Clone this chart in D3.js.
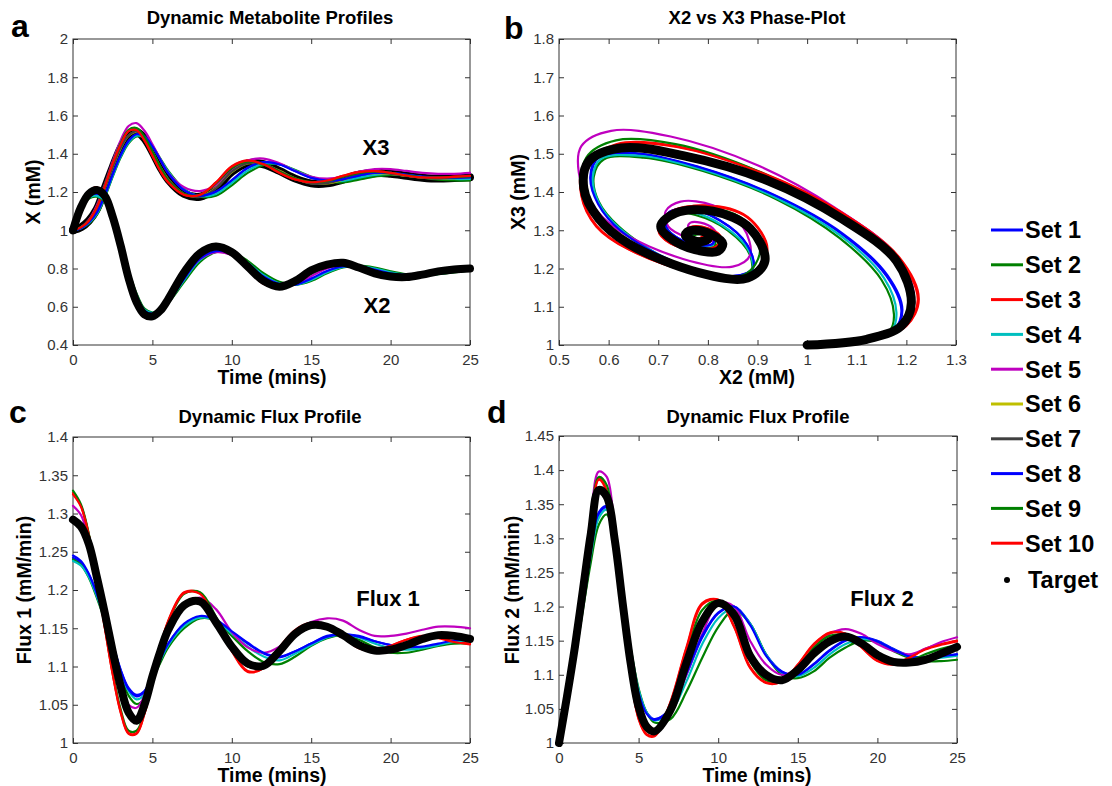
<!DOCTYPE html>
<html>
<head>
<meta charset="utf-8">
<title>Metabolite and flux profiles</title>
<script src="https://cdnjs.cloudflare.com/ajax/libs/d3/7.8.5/d3.min.js"></script>
<style>
  body { margin: 0; background: #fff; }
  svg text { font-family: "Liberation Sans", Arial, sans-serif; }
</style>
</head>
<body>
<script>
// ---- data ----
var times = [0,0.5,1,1.5,2,2.5,3,3.5,4,4.5,5,5.5,6,7,8,9,10,11,12,13,14,15,16,17,18,19,20,21,22,23,24,25];
var setNames = ["Set 1","Set 2","Set 3","Set 4","Set 5","Set 6","Set 7","Set 8","Set 9","Set 10"];
var targetName = "Target";

// X2 (mM)
var x2Target = [1.00,1.12,1.19,1.21,1.18,1.07,0.92,0.75,0.625,0.56,0.55,0.58,0.64,0.78,0.88,0.915,0.885,0.81,0.735,0.705,0.735,0.79,0.82,0.83,0.805,0.775,0.758,0.755,0.768,0.785,0.795,0.80];
var x2Sets = [
  [1.00,1.11,1.175,1.19,1.16,1.07,0.935,0.78,0.655,0.58,0.565,0.58,0.625,0.745,0.85,0.89,0.88,0.825,0.76,0.72,0.715,0.745,0.785,0.81,0.81,0.795,0.775,0.765,0.765,0.775,0.785,0.79],
  [1.00,1.105,1.165,1.175,1.15,1.065,0.94,0.79,0.67,0.59,0.57,0.58,0.62,0.73,0.835,0.885,0.885,0.84,0.775,0.73,0.715,0.735,0.775,0.805,0.815,0.805,0.785,0.77,0.765,0.77,0.78,0.79],
  [1.00,1.13,1.20,1.225,1.185,1.065,0.91,0.735,0.615,0.55,0.545,0.575,0.64,0.785,0.885,0.92,0.88,0.795,0.72,0.70,0.725,0.78,0.82,0.825,0.80,0.77,0.755,0.755,0.765,0.778,0.785,0.79],
  [1.00,1.108,1.17,1.18,1.155,1.068,0.937,0.785,0.663,0.585,0.568,0.58,0.622,0.74,0.845,0.888,0.882,0.83,0.765,0.722,0.715,0.74,0.78,0.808,0.812,0.80,0.78,0.768,0.765,0.772,0.782,0.79],
  [1.00,1.125,1.195,1.215,1.175,1.055,0.90,0.725,0.605,0.545,0.54,0.565,0.62,0.75,0.85,0.885,0.87,0.81,0.745,0.715,0.72,0.76,0.80,0.82,0.81,0.785,0.765,0.76,0.765,0.775,0.785,0.79],
  [1.00,1.12,1.19,1.208,1.178,1.07,0.922,0.752,0.627,0.56,0.55,0.58,0.64,0.778,0.878,0.913,0.885,0.81,0.736,0.706,0.734,0.788,0.82,0.829,0.806,0.776,0.759,0.756,0.768,0.784,0.794,0.80],
  [1.00,1.12,1.19,1.212,1.181,1.071,0.919,0.749,0.624,0.559,0.55,0.581,0.641,0.781,0.881,0.916,0.884,0.809,0.734,0.704,0.736,0.791,0.821,0.831,0.804,0.774,0.757,0.754,0.768,0.786,0.796,0.80],
  [1.00,1.11,1.176,1.192,1.162,1.071,0.934,0.778,0.653,0.578,0.563,0.579,0.625,0.746,0.851,0.891,0.879,0.823,0.758,0.719,0.716,0.747,0.787,0.811,0.81,0.794,0.774,0.765,0.766,0.776,0.786,0.79],
  [1.00,1.125,1.19,1.205,1.17,1.055,0.90,0.735,0.615,0.555,0.55,0.58,0.64,0.78,0.875,0.905,0.875,0.80,0.73,0.705,0.725,0.775,0.815,0.825,0.805,0.775,0.758,0.756,0.766,0.78,0.788,0.795],
  [1.00,1.129,1.199,1.223,1.184,1.066,0.911,0.737,0.616,0.551,0.546,0.576,0.64,0.784,0.884,0.919,0.88,0.796,0.722,0.701,0.725,0.779,0.819,0.825,0.801,0.771,0.756,0.755,0.765,0.777,0.785,0.79]
];

// X3 (mM)
var x3Target = [1.00,1.015,1.05,1.11,1.22,1.33,1.43,1.495,1.515,1.48,1.41,1.33,1.265,1.19,1.175,1.22,1.305,1.35,1.345,1.31,1.27,1.245,1.245,1.265,1.29,1.30,1.295,1.285,1.275,1.27,1.273,1.277];
var x3Sets = [
  [1.00,1.01,1.04,1.09,1.18,1.29,1.39,1.465,1.50,1.49,1.44,1.37,1.30,1.21,1.18,1.20,1.26,1.325,1.355,1.345,1.31,1.275,1.26,1.265,1.285,1.30,1.30,1.29,1.28,1.275,1.275,1.275],
  [1.00,1.01,1.035,1.08,1.17,1.28,1.38,1.455,1.49,1.485,1.44,1.375,1.31,1.215,1.175,1.18,1.235,1.30,1.34,1.345,1.315,1.28,1.255,1.25,1.265,1.28,1.29,1.285,1.275,1.265,1.26,1.26],
  [1.00,1.015,1.05,1.12,1.23,1.35,1.45,1.52,1.525,1.47,1.39,1.31,1.25,1.185,1.185,1.25,1.335,1.365,1.345,1.30,1.265,1.25,1.26,1.285,1.305,1.31,1.30,1.285,1.275,1.275,1.28,1.285],
  [1.00,1.01,1.038,1.085,1.175,1.285,1.385,1.46,1.495,1.487,1.44,1.372,1.305,1.212,1.178,1.19,1.248,1.312,1.348,1.345,1.312,1.278,1.258,1.258,1.275,1.29,1.295,1.288,1.278,1.27,1.268,1.268],
  [1.00,1.015,1.055,1.13,1.24,1.36,1.47,1.545,1.56,1.52,1.45,1.37,1.30,1.225,1.205,1.235,1.31,1.365,1.375,1.35,1.31,1.28,1.27,1.28,1.305,1.32,1.32,1.31,1.30,1.295,1.295,1.30],
  [1.00,1.015,1.05,1.11,1.219,1.329,1.428,1.494,1.514,1.48,1.411,1.331,1.266,1.19,1.176,1.221,1.304,1.349,1.345,1.311,1.271,1.246,1.245,1.264,1.289,1.299,1.295,1.285,1.275,1.271,1.273,1.277],
  [1.00,1.015,1.051,1.111,1.221,1.331,1.431,1.496,1.516,1.479,1.409,1.329,1.264,1.189,1.174,1.219,1.306,1.351,1.346,1.309,1.269,1.244,1.246,1.266,1.291,1.301,1.295,1.284,1.275,1.27,1.273,1.278],
  [1.00,1.01,1.041,1.092,1.182,1.292,1.392,1.467,1.502,1.49,1.439,1.368,1.298,1.209,1.18,1.202,1.262,1.327,1.356,1.344,1.308,1.274,1.26,1.266,1.286,1.30,1.30,1.29,1.279,1.274,1.275,1.276],
  [1.00,1.015,1.05,1.12,1.235,1.35,1.455,1.525,1.535,1.49,1.41,1.33,1.26,1.19,1.185,1.245,1.325,1.36,1.345,1.305,1.27,1.252,1.258,1.28,1.30,1.307,1.30,1.287,1.277,1.275,1.278,1.282],
  [1.00,1.015,1.05,1.119,1.229,1.349,1.448,1.518,1.523,1.47,1.391,1.311,1.251,1.186,1.185,1.249,1.333,1.364,1.345,1.301,1.266,1.251,1.26,1.284,1.304,1.309,1.30,1.286,1.276,1.275,1.279,1.284]
];

// Flux 1 (mM/min)
var flux1Target = [1.292,1.283,1.26,1.217,1.17,1.12,1.074,1.04,1.029,1.05,1.087,1.12,1.148,1.18,1.185,1.158,1.126,1.104,1.101,1.12,1.143,1.154,1.152,1.141,1.128,1.121,1.122,1.128,1.136,1.141,1.14,1.136];
var flux1Sets = [
  [1.242,1.236,1.22,1.195,1.165,1.13,1.096,1.072,1.063,1.068,1.088,1.11,1.13,1.155,1.165,1.16,1.145,1.13,1.117,1.112,1.12,1.13,1.14,1.142,1.14,1.133,1.128,1.125,1.125,1.129,1.133,1.135],
  [1.24,1.233,1.216,1.19,1.16,1.125,1.09,1.062,1.051,1.058,1.083,1.105,1.125,1.15,1.163,1.16,1.14,1.12,1.106,1.103,1.113,1.127,1.137,1.141,1.135,1.125,1.118,1.118,1.122,1.127,1.13,1.13],
  [1.327,1.31,1.272,1.215,1.152,1.09,1.04,1.012,1.012,1.038,1.08,1.125,1.16,1.197,1.196,1.16,1.12,1.093,1.098,1.125,1.148,1.157,1.15,1.138,1.124,1.12,1.127,1.135,1.14,1.138,1.133,1.13],
  [1.238,1.232,1.217,1.192,1.162,1.128,1.093,1.068,1.057,1.063,1.085,1.108,1.128,1.153,1.164,1.16,1.143,1.126,1.113,1.108,1.117,1.128,1.138,1.142,1.138,1.13,1.124,1.122,1.124,1.128,1.132,1.135],
  [1.31,1.298,1.265,1.215,1.162,1.113,1.072,1.05,1.046,1.062,1.093,1.123,1.148,1.178,1.19,1.175,1.145,1.125,1.118,1.126,1.145,1.158,1.163,1.16,1.148,1.14,1.14,1.143,1.148,1.152,1.152,1.15],
  [1.29,1.282,1.259,1.217,1.17,1.121,1.075,1.041,1.03,1.05,1.086,1.12,1.147,1.179,1.184,1.158,1.127,1.105,1.102,1.12,1.142,1.153,1.151,1.14,1.128,1.122,1.123,1.128,1.135,1.14,1.14,1.136],
  [1.293,1.284,1.26,1.218,1.171,1.12,1.073,1.039,1.029,1.049,1.087,1.121,1.148,1.181,1.186,1.159,1.126,1.103,1.10,1.119,1.143,1.155,1.153,1.142,1.128,1.12,1.121,1.128,1.137,1.142,1.141,1.137],
  [1.245,1.238,1.221,1.195,1.164,1.129,1.095,1.07,1.061,1.067,1.088,1.11,1.13,1.156,1.166,1.161,1.146,1.131,1.118,1.113,1.12,1.13,1.139,1.142,1.139,1.133,1.128,1.126,1.126,1.13,1.134,1.136],
  [1.33,1.312,1.273,1.216,1.154,1.093,1.044,1.016,1.016,1.04,1.082,1.125,1.158,1.195,1.197,1.165,1.125,1.10,1.10,1.12,1.142,1.155,1.152,1.14,1.127,1.12,1.122,1.13,1.138,1.14,1.137,1.134],
  [1.325,1.309,1.271,1.214,1.151,1.09,1.041,1.013,1.013,1.039,1.081,1.125,1.159,1.196,1.195,1.16,1.121,1.094,1.098,1.124,1.147,1.156,1.15,1.138,1.125,1.121,1.127,1.135,1.139,1.137,1.132,1.129]
];

// Flux 2 (mM/min)
var flux2Target = [1.0,1.068,1.141,1.224,1.307,1.371,1.361,1.298,1.205,1.117,1.053,1.024,1.017,1.048,1.117,1.178,1.205,1.188,1.128,1.10,1.092,1.107,1.131,1.149,1.156,1.146,1.129,1.119,1.118,1.122,1.131,1.141];
var flux2Sets = [
  [1.0,1.062,1.128,1.205,1.28,1.335,1.345,1.30,1.22,1.135,1.075,1.045,1.035,1.05,1.10,1.155,1.19,1.20,1.175,1.13,1.105,1.10,1.115,1.135,1.15,1.155,1.15,1.138,1.128,1.125,1.127,1.13],
  [1.0,1.06,1.122,1.195,1.265,1.32,1.335,1.29,1.22,1.14,1.08,1.045,1.03,1.035,1.075,1.125,1.17,1.195,1.175,1.13,1.10,1.095,1.105,1.125,1.14,1.15,1.148,1.135,1.125,1.12,1.12,1.122],
  [1.0,1.072,1.15,1.24,1.33,1.388,1.37,1.29,1.19,1.10,1.035,1.012,1.01,1.06,1.14,1.205,1.21,1.17,1.11,1.088,1.09,1.115,1.145,1.162,1.16,1.14,1.12,1.115,1.125,1.138,1.145,1.15],
  [1.0,1.062,1.126,1.20,1.275,1.33,1.342,1.298,1.22,1.138,1.078,1.045,1.033,1.045,1.09,1.145,1.183,1.198,1.175,1.13,1.103,1.098,1.11,1.13,1.145,1.152,1.149,1.137,1.127,1.123,1.125,1.128],
  [1.0,1.07,1.148,1.238,1.33,1.398,1.39,1.31,1.21,1.12,1.06,1.03,1.02,1.045,1.10,1.16,1.205,1.20,1.15,1.115,1.10,1.11,1.14,1.16,1.167,1.16,1.145,1.135,1.13,1.138,1.148,1.155],
  [1.0,1.068,1.14,1.223,1.306,1.37,1.36,1.298,1.206,1.118,1.054,1.025,1.018,1.048,1.116,1.177,1.204,1.188,1.129,1.10,1.092,1.107,1.13,1.148,1.155,1.146,1.13,1.12,1.118,1.122,1.13,1.14],
  [1.0,1.069,1.142,1.225,1.308,1.372,1.362,1.297,1.204,1.116,1.052,1.023,1.016,1.049,1.118,1.179,1.206,1.187,1.127,1.099,1.091,1.108,1.132,1.15,1.157,1.146,1.128,1.118,1.117,1.123,1.132,1.142],
  [1.0,1.063,1.13,1.208,1.283,1.338,1.347,1.30,1.218,1.133,1.073,1.043,1.034,1.05,1.102,1.157,1.191,1.20,1.173,1.128,1.104,1.10,1.116,1.136,1.151,1.155,1.149,1.137,1.127,1.124,1.127,1.13],
  [1.0,1.07,1.146,1.235,1.325,1.39,1.378,1.30,1.20,1.108,1.045,1.018,1.015,1.055,1.13,1.195,1.208,1.18,1.12,1.092,1.09,1.11,1.14,1.157,1.158,1.145,1.126,1.117,1.12,1.13,1.138,1.143],
  [1.0,1.071,1.149,1.239,1.328,1.386,1.368,1.29,1.191,1.101,1.036,1.013,1.011,1.059,1.138,1.203,1.21,1.171,1.112,1.089,1.09,1.114,1.144,1.161,1.16,1.141,1.121,1.116,1.125,1.137,1.144,1.149]
];

// axis ticks
var timeTicks = [0,5,10,15,20,25];
var xTicksA = [0.4,0.6,0.8,1,1.2,1.4,1.6,1.8,2];
var x2TicksB = [0.5,0.6,0.7,0.8,0.9,1,1.1,1.2,1.3];
var x3TicksB = [1,1.1,1.2,1.3,1.4,1.5,1.6,1.7,1.8];
var flux1Ticks = [1,1.05,1.1,1.15,1.2,1.25,1.3,1.35,1.4];
var flux2Ticks = [1,1.05,1.1,1.15,1.2,1.25,1.3,1.35,1.4,1.45];

// ---- styling ----
var setColors = ["#0000ff","#008000","#ff0000","#00bfbf","#bf00bf","#bfbf00","#404040","#0000ff","#008000","#ff0000"];
var setWidth = 2.2;
var targetWidth = 8;

var svg = d3.select("body").append("svg")
  .attr("width", 1112)
  .attr("height", 786);

function frame(box, xDomain, yDomain, xTicks, yTicks) {
  var x = d3.scaleLinear().domain(xDomain).range([box.l, box.r]);
  var y = d3.scaleLinear().domain(yDomain).range([box.b, box.t]);
  var g = svg.append("g");
  var fmt = function(d) { return String(d); };
  var none = function() { return ""; };

  g.append("g").attr("transform", "translate(0," + box.b + ")")
    .call(d3.axisBottom(x).tickValues(xTicks).tickFormat(fmt).tickSizeInner(-5).tickSizeOuter(0).tickPadding(9));
  g.append("g").attr("transform", "translate(0," + box.t + ")")
    .call(d3.axisTop(x).tickValues(xTicks).tickFormat(none).tickSizeInner(-5).tickSizeOuter(0));
  g.append("g").attr("transform", "translate(" + box.l + ",0)")
    .call(d3.axisLeft(y).tickValues(yTicks).tickFormat(fmt).tickSizeInner(-5).tickSizeOuter(0).tickPadding(5));
  g.append("g").attr("transform", "translate(" + box.r + ",0)")
    .call(d3.axisRight(y).tickValues(yTicks).tickFormat(none).tickSizeInner(-5).tickSizeOuter(0));

  g.selectAll(".domain").remove();
  g.selectAll(".tick line").attr("stroke", "#333");
  g.selectAll(".tick text")
    .attr("fill", "#333")
    .attr("font-size", "15px")
    .attr("font-family", "'Liberation Sans', Arial, sans-serif");

  g.append("rect")
    .attr("x", box.l).attr("y", box.t)
    .attr("width", box.r - box.l).attr("height", box.b - box.t)
    .attr("fill", "none").attr("stroke", "#333").attr("stroke-width", 1);

  var plot = svg.append("g");
  return { x: x, y: y, g: plot };
}

function timeLine(p, values, color, width) {
  var line = d3.line()
    .x(function(d, i) { return p.x(times[i]); })
    .y(function(d) { return p.y(d); })
    .curve(d3.curveCatmullRom.alpha(0.5));
  p.g.append("path")
    .datum(values)
    .attr("d", line)
    .attr("fill", "none")
    .attr("stroke", color)
    .attr("stroke-width", width)
    .attr("stroke-linejoin", "round")
    .attr("stroke-linecap", "round");
}

function phaseLine(p, xs, ys, color, width) {
  var line = d3.line()
    .x(function(d, i) { return p.x(xs[i]); })
    .y(function(d, i) { return p.y(ys[i]); })
    .curve(d3.curveCatmullRom.alpha(0.5));
  p.g.append("path")
    .datum(xs)
    .attr("d", line)
    .attr("fill", "none")
    .attr("stroke", color)
    .attr("stroke-width", width)
    .attr("stroke-linejoin", "round")
    .attr("stroke-linecap", "round");
}

function addText(x, y, txt, size, anchor, rotate) {
  var t = svg.append("text")
    .attr("font-size", size + "px")
    .attr("font-weight", "bold")
    .attr("fill", "#000")
    .attr("text-anchor", anchor || "middle")
    .text(txt);
  if (rotate) t.attr("transform", "translate(" + x + "," + y + ") rotate(-90)");
  else t.attr("x", x).attr("y", y);
  return t;
}

// panel a
var pa = frame({ l: 73, r: 470, t: 39, b: 345 }, [0, 25], [0.4, 2], timeTicks, xTicksA);
timeLine(pa, x3Target, "#000", targetWidth);
x3Sets.forEach(function(s, i) { timeLine(pa, s, setColors[i], setWidth); });
x2Sets.forEach(function(s, i) { timeLine(pa, s, setColors[i], setWidth); });
timeLine(pa, x2Target, "#000", targetWidth);

// panel b
var pb = frame({ l: 559, r: 956, t: 39, b: 345 }, [0.5, 1.3], [1, 1.8], x2TicksB, x3TicksB);
x2Sets.forEach(function(s, i) { phaseLine(pb, s, x3Sets[i], setColors[i], setWidth); });
phaseLine(pb, x2Target, x3Target, "#000", 9);

// panel c
var pc = frame({ l: 73, r: 470, t: 437, b: 743 }, [0, 25], [1, 1.4], timeTicks, flux1Ticks);
flux1Sets.forEach(function(s, i) { timeLine(pc, s, setColors[i], setWidth); });
timeLine(pc, flux1Target, "#000", targetWidth);

// panel d
var pd = frame({ l: 559, r: 957, t: 436, b: 743 }, [0, 25], [1, 1.45], timeTicks, flux2Ticks);
flux2Sets.forEach(function(s, i) { timeLine(pd, s, setColors[i], setWidth); });
timeLine(pd, flux2Target, "#000", targetWidth);

// titles, axis labels, panel letters
addText(270, 24, "Dynamic Metabolite Profiles", 18.5);
addText(757, 24, "X2 vs X3 Phase-Plot", 18.5);
addText(270, 423, "Dynamic Flux Profile", 18.5);
addText(758, 423, "Dynamic Flux Profile", 18.5);

addText(272, 384, "Time (mins)", 19.5);
addText(757, 384, "X2 (mM)", 19.5);
addText(272, 782, "Time (mins)", 19.5);
addText(757, 782, "Time (mins)", 19.5);

addText(40, 192, "X (mM)", 19.5, "middle", true);
addText(525, 192, "X3 (mM)", 19.5, "middle", true);
addText(31, 590, "Flux 1 (mM/min)", 19.5, "middle", true);
addText(519, 590, "Flux 2 (mM/min)", 19.5, "middle", true);

addText(11, 37, "a", 32, "start");
addText(504, 39, "b", 32, "start");
addText(9, 423, "c", 32, "start");
addText(487, 423, "d", 32, "start");

addText(376, 155, "X3", 22);
addText(377, 313, "X2", 22);
addText(388, 606, "Flux 1", 22);
addText(882, 606, "Flux 2", 22);

// legend
var legend = svg.append("g");
setNames.forEach(function(name, i) {
  var cy = 230 + i * 34.8;
  legend.append("line")
    .attr("x1", 991).attr("x2", 1023)
    .attr("y1", cy).attr("y2", cy)
    .attr("stroke", setColors[i]).attr("stroke-width", 3);
  legend.append("text")
    .attr("x", 1025).attr("y", cy + 8.4)
    .attr("font-size", "23.5px").attr("font-weight", "bold")
    .text(name);
});
legend.append("circle").attr("cx", 1007).attr("cy", 580).attr("r", 3).attr("fill", "#000");
legend.append("text")
  .attr("x", 1028).attr("y", 588.4)
  .attr("font-size", "23.5px").attr("font-weight", "bold")
  .text(targetName);
</script>
</body>
</html>
